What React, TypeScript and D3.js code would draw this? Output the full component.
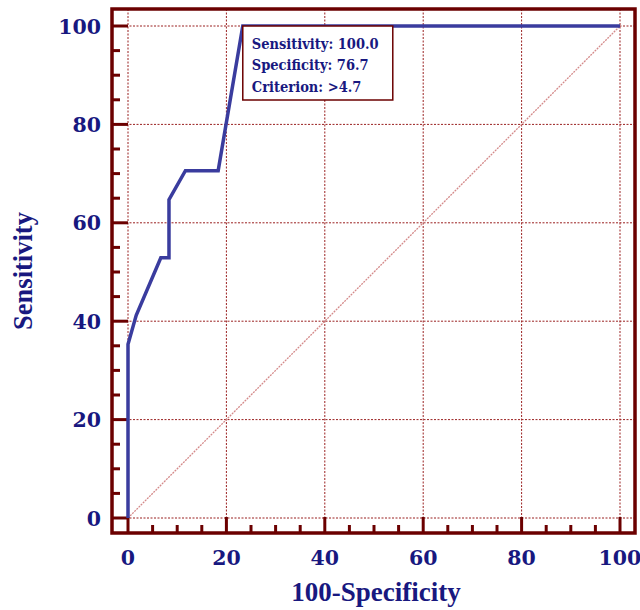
import React, { useRef, useEffect } from 'react';
import * as d3 from 'd3';

// ROC curve points: [100-Specificity, Sensitivity]
const fpr = [0, 0, 1.67, 6.67, 8.33, 8.33, 11.67, 18.33, 23.33, 100];
const tpr = [0, 35.3, 41.2, 52.9, 52.9, 64.7, 70.6, 70.6, 100, 100];
const majorTicks = [0, 20, 40, 60, 80, 100];
const minorTicks = d3.range(0, 101, 5);
const infoLines = ['Sensitivity: 100.0', 'Specificity: 76.7', 'Criterion: >4.7'];

const W = 640;
const H = 610;
const frameColor = '#6b0000';
const labelColor = '#18187f';
const lineColor = '#3a3c9e';
const numFont = '"DejaVu Serif", serif';
const titleFont = '"Liberation Serif", serif';

const App = () => {
  const svgRef = useRef<SVGSVGElement>(null);

  useEffect(() => {
    const svg = d3.select(svgRef.current);
    svg.selectAll('*').remove();

    const x = d3.scaleLinear().domain([0, 100]).range([128, 620]);
    const y = d3.scaleLinear().domain([0, 100]).range([518, 26]);
    const left = 112, right = 635, top = 9, bottom = 533;

    // grid
    const grid = svg.append('g');
    majorTicks.forEach(t => {
      grid.append('line')
        .attr('x1', x(t)).attr('x2', x(t))
        .attr('y1', top).attr('y2', bottom)
        .attr('stroke', '#9a2020').attr('stroke-width', 1)
        .attr('stroke-dasharray', '2,1.5');
      grid.append('line')
        .attr('x1', left).attr('x2', right)
        .attr('y1', y(t)).attr('y2', y(t))
        .attr('stroke', '#9a2020').attr('stroke-width', 1)
        .attr('stroke-dasharray', '2,1.5');
    });

    // diagonal reference
    svg.append('line')
      .attr('x1', x(0)).attr('y1', y(0))
      .attr('x2', x(100)).attr('y2', y(100))
      .attr('stroke', '#d48a8a').attr('stroke-width', 1.3)
      .attr('stroke-dasharray', '2,1');

    // frame
    svg.append('rect')
      .attr('x', left).attr('y', top)
      .attr('width', right - left).attr('height', bottom - top)
      .attr('fill', 'none').attr('stroke', frameColor).attr('stroke-width', 3.5);

    // ticks
    minorTicks.forEach(t => {
      const major = t % 20 === 0;
      const len = major ? 16 : 8;
      svg.append('line')
        .attr('x1', x(t)).attr('x2', x(t))
        .attr('y1', bottom).attr('y2', bottom - len)
        .attr('stroke', frameColor).attr('stroke-width', 3);
      svg.append('line')
        .attr('x1', left).attr('x2', left + len)
        .attr('y1', y(t)).attr('y2', y(t))
        .attr('stroke', frameColor).attr('stroke-width', 3);
    });

    // tick labels
    majorTicks.forEach(t => {
      svg.append('text')
        .attr('x', x(t)).attr('y', 565)
        .attr('text-anchor', 'middle')
        .attr('font-family', numFont).attr('font-weight', 'bold')
        .attr('font-size', 20.5).attr('fill', labelColor)
        .text(t);
      svg.append('text')
        .attr('x', 101).attr('y', y(t) + 7.5)
        .attr('text-anchor', 'end')
        .attr('font-family', numFont).attr('font-weight', 'bold')
        .attr('font-size', 20.5).attr('fill', labelColor)
        .text(t);
    });

    // axis titles
    svg.append('text')
      .attr('x', 376).attr('y', 601)
      .attr('text-anchor', 'middle')
      .attr('font-family', titleFont).attr('font-weight', 'bold')
      .attr('font-size', 27).attr('fill', labelColor)
      .text('100-Specificity');
    svg.append('text')
      .attr('transform', 'translate(32,271) rotate(-90)')
      .attr('text-anchor', 'middle')
      .attr('font-family', titleFont).attr('font-weight', 'bold')
      .attr('font-size', 26.5).attr('fill', labelColor)
      .text('Sensitivity');

    // ROC curve
    const pts = fpr.map((f, i) => [f, tpr[i]] as [number, number]);
    const line = d3.line<[number, number]>()
      .x(d => x(d[0]))
      .y(d => y(d[1]));
    svg.append('path')
      .attr('d', line(pts))
      .attr('fill', 'none')
      .attr('stroke', lineColor).attr('stroke-width', 3.5)
      .attr('stroke-linejoin', 'miter');

    // info box
    const bx = x(23.33), by = y(100);
    const box = svg.append('g');
    box.append('rect')
      .attr('x', bx).attr('y', by)
      .attr('width', 150).attr('height', 74)
      .attr('fill', 'white').attr('stroke', frameColor).attr('stroke-width', 1.5);
    infoLines.forEach((s, i) => {
      box.append('text')
        .attr('x', bx + 9).attr('y', by + 22.5 + i * 21.5)
        .attr('font-family', '"DejaVu Serif Condensed", "DejaVu Serif", serif')
        .attr('font-stretch', 'condensed')
        .attr('font-weight', 'bold')
        .attr('font-size', 14.5).attr('fill', labelColor)
        .text(s);
    });
  }, []);

  return (
    <svg ref={svgRef} width={W} height={H}
      style={{ position: 'absolute', left: 0, top: 0, background: 'white' }} />
  );
};

export default App;
